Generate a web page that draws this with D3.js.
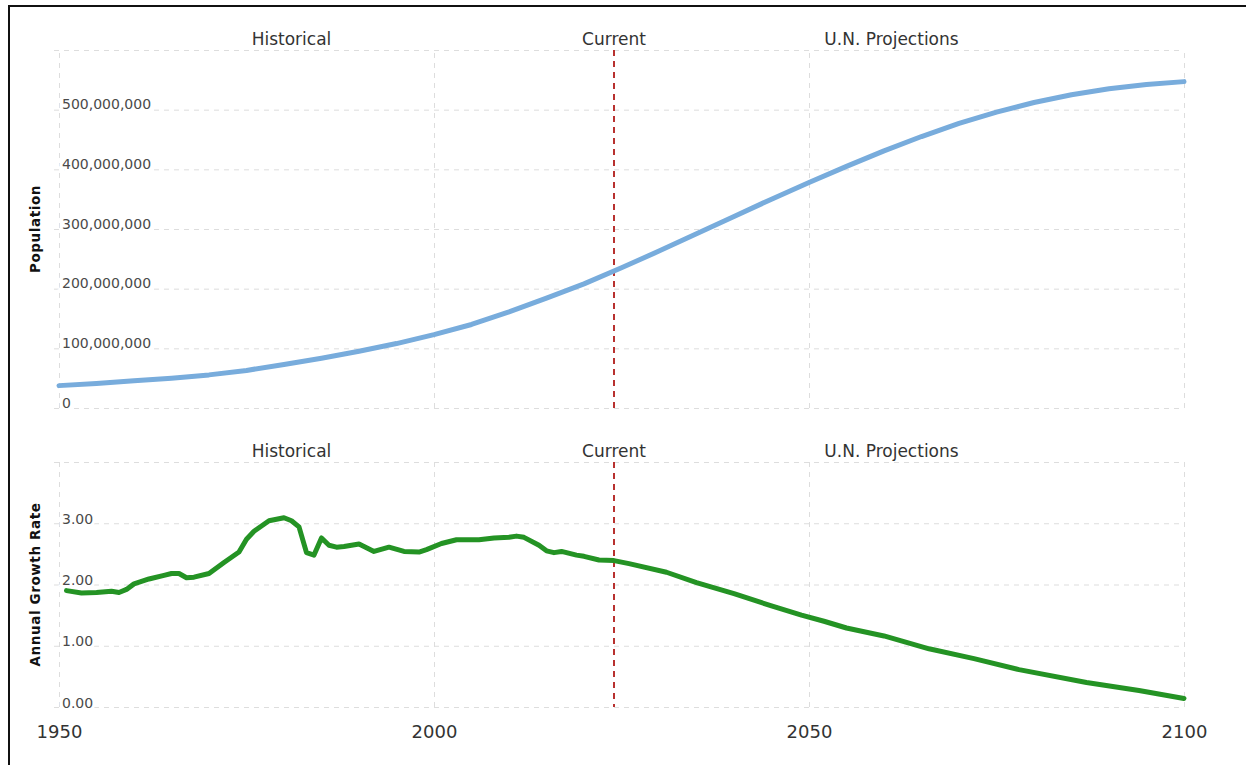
<!DOCTYPE html>
<html>
<head>
<meta charset="utf-8">
<script src="https://cdn.jsdelivr.net/npm/d3@7"></script>
<style>
  body { margin: 0; background: #fff; }
  svg { display: block; font-family: "DejaVu Sans", Verdana, sans-serif; }
  .grid line { stroke: #ddd; stroke-dasharray: 5,5; }
  .grid path { display: none; }
</style>
</head>
<body>
<svg width="1246" height="765"></svg>
<script>
// population, millions
const popYears = [1950, 1955, 1960, 1965, 1970, 1975, 1980, 1985, 1990, 1995, 2000,
  2005, 2010, 2015, 2020, 2025, 2030, 2035, 2040, 2045, 2050, 2055, 2060, 2065,
  2070, 2075, 2080, 2085, 2090, 2095, 2100];
const popValues = [37.5, 41, 45.5, 50, 55.5, 63, 73, 83.5, 95, 108, 123,
  140, 161, 184, 208, 235, 263, 292, 321, 350, 378, 405, 431, 455,
  477, 496, 512, 525, 535, 542, 547];

// annual growth rate, %
const rateYears = [1951, 1953, 1955, 1957, 1958, 1959, 1960, 1962, 1964, 1965, 1966,
  1967, 1968, 1970, 1972, 1974, 1975, 1976, 1978, 1980, 1981, 1982, 1983, 1984,
  1985, 1986, 1987, 1988, 1990, 1991, 1992, 1994, 1996, 1998, 1999, 2001, 2003,
  2006, 2008, 2010, 2011, 2012, 2014, 2015, 2016, 2017, 2019, 2020, 2022, 2024,
  2026, 2031, 2035, 2040, 2045, 2049, 2052, 2055, 2060, 2066, 2072, 2078, 2087,
  2094, 2100];
const rateValues = [1.90, 1.86, 1.87, 1.89, 1.87, 1.92, 2.01, 2.09, 2.15, 2.18, 2.18,
  2.11, 2.12, 2.18, 2.36, 2.53, 2.74, 2.87, 3.04, 3.09, 3.04, 2.94, 2.52, 2.48,
  2.76, 2.64, 2.61, 2.62, 2.66, 2.60, 2.54, 2.61, 2.54, 2.53, 2.57, 2.67, 2.73,
  2.73, 2.76, 2.77, 2.79, 2.77, 2.64, 2.55, 2.52, 2.54, 2.48, 2.46, 2.40, 2.39,
  2.34, 2.20, 2.03, 1.85, 1.65, 1.50, 1.40, 1.29, 1.16, 0.95, 0.79, 0.61, 0.40,
  0.27, 0.14];

const popTicks = [0, 100, 200, 300, 400, 500, 600];
const rateTicks = [0, 1, 2, 3, 4];
const yearTicks = [1950, 2000, 2050, 2100];
const currentYear = 2024;
const headers = [
  { label: 'Historical', year: 1981 },
  { label: 'Current', year: 2024 },
  { label: 'U.N. Projections', year: 2061 }
];

const svg = d3.select('svg');

// outer frame
svg.append('rect')
  .attr('x', 9).attr('y', 6)
  .attr('width', 1260).attr('height', 800)
  .attr('fill', 'none')
  .attr('stroke', '#111')
  .attr('stroke-width', 2);

const x = d3.scaleLinear().domain([1950, 2100]).range([59, 1184]);

const panels = [
  {
    top: 50, bottom: 408, domain: [0, 600], ticks: popTicks,
    fmt: (d) => d === 0 ? '0' : d3.format(',')(d * 1e6),
    title: 'Population', years: popYears, values: popValues,
    color: '#78acdc', dy: -1
  },
  {
    top: 462, bottom: 707, domain: [0, 4], ticks: rateTicks,
    fmt: (d) => d.toFixed(2),
    title: 'Annual Growth Rate', years: rateYears, values: rateValues,
    color: '#249324', dy: 0
  }
];

panels.forEach((p) => {
  const y = d3.scaleLinear().domain(p.domain).range([p.bottom, p.top]);
  const topTick = p.domain[1];

  // vertical grid
  svg.append('g')
    .attr('class', 'grid')
    .attr('transform', `translate(0,${p.bottom})`)
    .call(d3.axisBottom(x).tickValues(yearTicks).tickSize(-(p.bottom - p.top)).tickFormat(''));

  // horizontal grid + labels
  const gy = svg.append('g')
    .attr('class', 'grid')
    .attr('transform', 'translate(54,0)')
    .call(d3.axisLeft(y).tickValues(p.ticks).tickSize(-(1184 - 54))
      .tickFormat((d) => d === topTick ? '' : p.fmt(d)));
  gy.selectAll('text')
    .attr('x', 8)
    .attr('dy', p.dy)
    .attr('text-anchor', 'start')
    .attr('fill', '#4a4a4a')
    .attr('stroke', '#fff')
    .attr('stroke-width', 6)
    .attr('paint-order', 'stroke')
    .style('font-size', '14px')
    .style('font-family', '"DejaVu Sans", Verdana, sans-serif');

  // axis title
  svg.append('text')
    .attr('transform', `translate(40,${(p.top + p.bottom) / 2}) rotate(-90)`)
    .attr('text-anchor', 'middle')
    .attr('font-weight', 'bold')
    .attr('font-size', 13.5)
    .attr('letter-spacing', 0.6)
    .attr('fill', '#111')
    .text(p.title);

  // section headers
  svg.selectAll(null)
    .data(headers)
    .enter()
    .append('text')
    .attr('x', (d) => x(d.year))
    .attr('y', p.top - 5)
    .attr('text-anchor', 'middle')
    .attr('font-size', 17)
    .attr('fill', '#333')
    .text((d) => d.label);

  // current year marker
  svg.append('line')
    .attr('x1', x(currentYear)).attr('x2', x(currentYear))
    .attr('y1', p.top).attr('y2', p.bottom)
    .attr('stroke', '#b8312f')
    .attr('stroke-width', 2)
    .attr('stroke-dasharray', '6,5');

  // series line
  const pts = p.years.map((yr, i) => [yr, p.values[i]]);
  svg.append('path')
    .datum(pts)
    .attr('fill', 'none')
    .attr('stroke', p.color)
    .attr('stroke-width', 5)
    .attr('stroke-linejoin', 'round')
    .attr('stroke-linecap', 'round')
    .attr('d', d3.line().x((d) => x(d[0])).y((d) => y(d[1])));
});

// bottom year axis
const gx = svg.append('g')
  .attr('transform', 'translate(0,707)')
  .call(d3.axisBottom(x).tickValues(yearTicks).tickSize(0).tickPadding(18).tickFormat(d3.format('d')));
gx.select('.domain').remove();
gx.selectAll('text')
  .attr('fill', '#333')
  .style('font-size', '18px')
  .style('font-family', '"DejaVu Sans", Verdana, sans-serif');
</script>
</body>
</html>
